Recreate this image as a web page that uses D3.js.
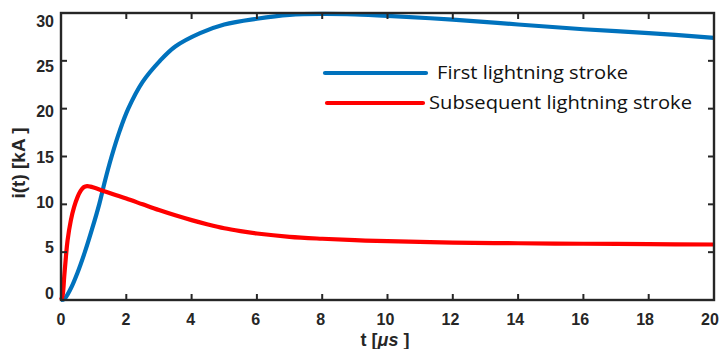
<!DOCTYPE html>
<html><head><meta charset="utf-8">
<script src="https://cdn.jsdelivr.net/npm/d3@7"></script>
<style>body{margin:0;background:#fff}svg{display:block}</style>
</head><body><svg id="c" width="722" height="349"></svg>
<script>
// Data
const firstT = [0,0.1,0.3,0.5,0.73,0.95,1.17,1.35,1.55,1.8,2.06,2.5,3.03,3.5,4.26,5,6,7,8,9,10,12,14,16,18,20];
const firstI = [0,0.1,1.2,2.8,5,7.4,10,12.5,15,17.7,20,22.8,25,26.5,27.9,28.8,29.4,29.8,29.9,29.85,29.7,29.3,28.8,28.3,27.9,27.4];
const subsT = [0,0.05,0.1,0.15,0.2,0.3,0.4,0.5,0.6,0.7,0.8,0.9,1.0,1.3,1.6,2.0,2.5,3,3.5,4,4.5,5,5.5,6,7,8,9,10,12,14,16,18,20];
const subsI = [0,0.5,2.5,4.5,6.2,8.3,9.7,10.7,11.4,11.8,11.9,11.85,11.75,11.4,11.05,10.6,10.0,9.4,8.85,8.35,7.9,7.5,7.2,6.95,6.6,6.4,6.25,6.15,6.0,5.93,5.88,5.84,5.8];
const xTicks = [0,2,4,6,8,10,12,14,16,18,20];
const yTicks = [0,5,10,15,20,25,30];
const seriesNames = ["First lightning stroke","Subsequent lightning stroke"];
const seriesColors = ["#0072BD","#FF0000"];
const xTitle = "t [";
const yTitle = "i(t) [kA ]";

const svg = d3.select("#c");
const L=61,R=714,T=13,B=300;
const x = d3.scaleLinear().domain([0,20]).range([L,R]);
const y = d3.scaleLinear().domain([0,30]).range([B,T]);
// tick labels in the reference sit slightly compressed relative to ticks
const xl = d3.scaleLinear().domain([0,20]).range([61,710]);
const yl = d3.scaleLinear().domain([0,30]).range([293,21]);
const axisCol="#262626";

// series lines
const line = d3.line().x(d=>x(d[0])).y(d=>y(d[1])).curve(d3.curveCatmullRom.alpha(0.5));
const s1 = firstT.map((t,i)=>[t,firstI[i]]);
const s2 = subsT.map((t,i)=>[t,subsI[i]]);
[s1,s2].forEach((s,k)=>{
  svg.append("path").datum(s).attr("d",line).attr("fill","none")
    .attr("stroke",seriesColors[k]).attr("stroke-width",4.2).attr("stroke-linejoin","round");
});

// frame
svg.append("rect").attr("x",L).attr("y",T).attr("width",R-L).attr("height",B-T)
  .attr("fill","none").attr("stroke",axisCol).attr("stroke-width",2.4);

// ticks
const g = svg.append("g").attr("stroke",axisCol).attr("stroke-width",2);
xTicks.forEach(v=>{
  if(v>0&&v<20){
  g.append("line").attr("x1",x(v)).attr("x2",x(v)).attr("y1",B).attr("y2",B-6);
  g.append("line").attr("x1",x(v)).attr("x2",x(v)).attr("y1",T).attr("y2",T+6);}
});
yTicks.forEach(v=>{
  if(v>0&&v<30){
  g.append("line").attr("y1",y(v)).attr("y2",y(v)).attr("x1",L).attr("x2",L+6);
  g.append("line").attr("y1",y(v)).attr("y2",y(v)).attr("x1",R).attr("x2",R-6);}
});

const tf = "'Liberation Sans', Arial, sans-serif";
svg.append("g").selectAll("text").data(xTicks).join("text")
  .attr("x",d=>xl(d)).attr("y",319).attr("dy","0.36em").attr("text-anchor","middle")
  .attr("font-family",tf).attr("font-weight","bold").attr("font-size",16).attr("fill",axisCol)
  .text(d=>d);
svg.append("g").selectAll("text").data(yTicks).join("text")
  .attr("x",54).attr("y",d=>yl(d)).attr("dy","0.36em").attr("text-anchor","end")
  .attr("font-family",tf).attr("font-weight","bold").attr("font-size",16).attr("fill",axisCol)
  .text(d=>d);

// axis titles
const xt = svg.append("text").attr("x",385).attr("y",346).attr("text-anchor","middle")
  .attr("font-family",tf).attr("font-weight","bold").attr("font-size",18).attr("fill",axisCol);
xt.append("tspan").text(xTitle);
xt.append("tspan").attr("font-style","italic").text("\u03bcs");
xt.append("tspan").text(" ]");
svg.append("text").attr("transform","translate(25,163) rotate(-90)").attr("text-anchor","middle")
  .attr("font-family",tf).attr("font-weight","bold").attr("font-size",19).attr("fill",axisCol)
  .text(yTitle);

// legend
const lg = [{x1:325,x2:426,y:73,tx:437,w:191},{x1:327,x2:423,y:103,tx:429,w:263}];
lg.forEach((d,k)=>{
  svg.append("line").attr("x1",d.x1).attr("x2",d.x2).attr("y1",d.y).attr("y2",d.y)
    .attr("stroke",seriesColors[k]).attr("stroke-width",4.2).attr("stroke-linecap","round");
  svg.append("text").attr("x",d.tx).attr("y",d.y).attr("dy","0.35em")
    .attr("font-family","'Open Sans', Lato, sans-serif").attr("font-size",18).attr("fill","#111")
    .attr("textLength",d.w).attr("lengthAdjust","spacingAndGlyphs")
    .text(seriesNames[k]);
});
</script></body></html>
